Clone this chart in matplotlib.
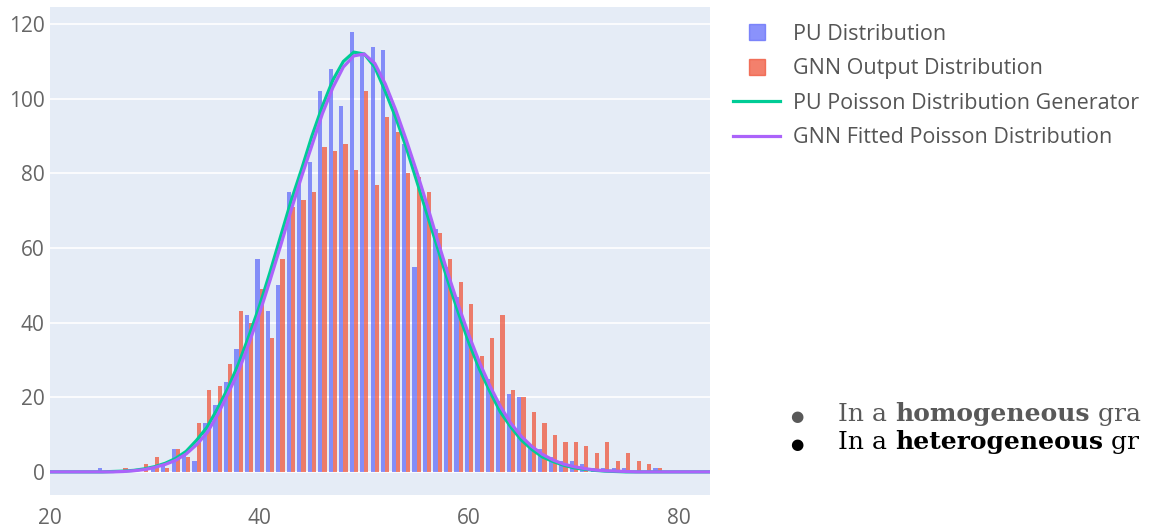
import matplotlib.pyplot as plt
from matplotlib.lines import Line2D

# histogram bins (integer centres) and counts
bins = list(range(22, 81))
pu_counts = [0, 0, 0, 1, 0, 0, 0, 0, 1, 2,
             6, 5, 3, 13, 18, 24, 33, 42, 57, 43,
             50, 75, 78, 83, 102, 108, 98, 118, 112, 114,
             113, 97, 88, 55, 72, 65, 55, 47, 38, 30,
             25, 19, 21, 20, 7, 6, 4, 3, 3, 2,
             1, 1, 1, 1, 0, 0, 1, 0, 0]
gnn_counts = [0, 0, 0, 0, 0, 1, 0, 2, 4, 1,
              6, 4, 13, 22, 23, 29, 43, 40, 49, 36,
              57, 71, 73, 75, 87, 86, 88, 81, 102, 77,
              95, 91, 80, 79, 75, 64, 57, 51, 45, 31,
              36, 42, 22, 20, 16, 13, 10, 8, 8, 7,
              5, 8, 3, 5, 3, 2, 1, 0, 0]

# fitted curves, values read at integer x
curve_x = list(range(20, 84))
pu_poisson = [0, 0, 0, 0, 0, 0, 0.1, 0.2,
              0.4, 0.8, 1.4, 2.3, 3.6, 5.5, 8.5, 12, 17, 22.5,
              29, 36.5, 44.5, 53.5, 63, 72.5, 81, 90, 98, 105,
              110, 112.5, 112, 108.5, 102, 95, 87, 78, 69, 60,
              51, 42.5, 34.5, 27.5, 21.5, 16, 12, 8.5, 6, 4,
              2.8, 1.8, 1.1, 0.7, 0.4, 0.2, 0.1, 0, 0, 0,
              0, 0, 0, 0, 0, 0]
gnn_poisson = [0, 0, 0, 0, 0, 0, 0, 0.1,
               0.3, 0.6, 1.2, 2, 3.1, 4.8, 7.3, 10.5, 15.3, 21,
               27, 34.5, 42.5, 51.3, 60.5, 70, 79, 87.5, 96, 103,
               108.5, 111.5, 112, 109.5, 104, 97, 89, 80.5, 71.5, 62,
               53, 44.5, 36.5, 29.3, 23, 17.5, 13, 9.5, 6.8, 4.7,
               3.2, 2.1, 1.4, 0.9, 0.5, 0.3, 0.2, 0.1, 0, 0,
               0, 0, 0, 0, 0, 0]

labels = ['PU Distribution', 'GNN Output Distribution',
          'PU Poisson Distribution Generator', 'GNN Fitted Poisson Distribution']
colors = ['#636EFA', '#EF553B', '#00CC96', '#AB63FA']

plt.rcParams['font.family'] = ['Open Sans', 'DejaVu Sans']

fig = plt.figure(figsize=(11.51, 5.31), dpi=100)
ax = fig.add_axes([50 / 1151, 1 - 495 / 531, 660 / 1151, 488 / 531])
ax.set_facecolor('#E5ECF6')

ax.bar([b - 0.2 for b in bins], pu_counts, width=0.4, color=colors[0], alpha=0.75, linewidth=0, zorder=2)
ax.bar([b + 0.2 for b in bins], gnn_counts, width=0.4, color=colors[1], alpha=0.75, linewidth=0, zorder=2)
ax.plot(curve_x, pu_poisson, color=colors[2], linewidth=2.3, zorder=3)
ax.plot(curve_x, gnn_poisson, color=colors[3], linewidth=2.3, zorder=4)

ax.set_xlim(20, 83)
ax.set_ylim(-6.2, 124.6)
ax.set_xticks([20, 40, 60, 80])
ax.set_yticks(range(0, 121, 20))
ax.grid(True, axis='y', color='white', linewidth=1.2, zorder=1)
ax.set_axisbelow(True)
for s in ax.spines.values():
    s.set_visible(False)
ax.tick_params(length=0, labelsize=15, labelcolor='#666666')
ax.tick_params(axis='x', pad=9)
ax.tick_params(axis='y', pad=4)

handles = [Line2D([], [], marker='s', linestyle='none', markersize=12, color=colors[0], alpha=0.75),
           Line2D([], [], marker='s', linestyle='none', markersize=12, color=colors[1], alpha=0.75),
           Line2D([], [], color=colors[2], linewidth=2.3),
           Line2D([], [], color=colors[3], linewidth=2.3)]
leg = fig.legend(handles, labels, loc='upper left', bbox_to_anchor=(733 / 1151, 1 - 24 / 531),
                 frameon=False, fontsize=15.5, handlelength=2.2, handletextpad=0.6,
                 labelspacing=0.62, borderpad=0, borderaxespad=0)
for t in leg.get_texts():
    t.set_color('#555555')

# bullet text on the right, cut at the image edge
lines = [(413, '#595959', ['In a ', 'homogeneous', ' gra']),
         (441, '#000000', ['In a ', 'heterogeneous', ' gr'])]
fig.canvas.draw()
renderer = fig.canvas.get_renderer()
for ypix, col, parts in lines:
    y = 1 - (ypix + 8) / 531
    fig.text(790 / 1151, y, '\u25cf', fontsize=11, color=col, family='DejaVu Sans', va='baseline')
    xpix = 838
    for i, part in enumerate(parts):
        t = fig.text(xpix / 1151, y, part, fontsize=18, color=col, family='DejaVu Serif',
                     weight='bold' if i == 1 else 'normal', va='baseline')
        xpix += t.get_window_extent(renderer).width

fig.savefig('out.png', dpi=100)
